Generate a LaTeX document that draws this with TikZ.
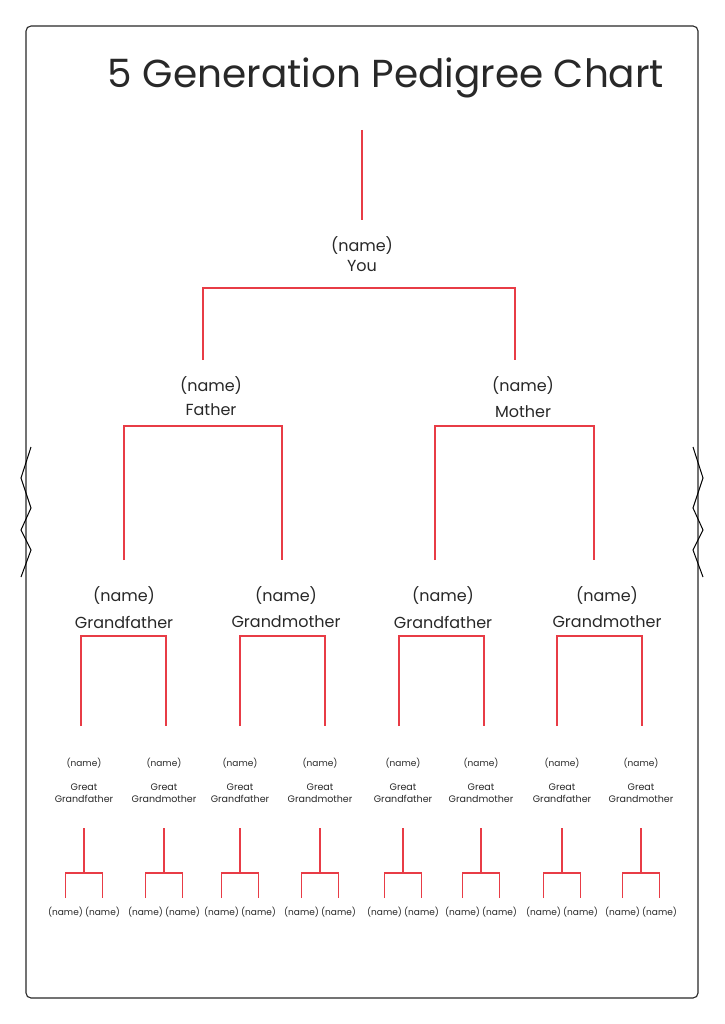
\documentclass[tikz,border=0pt]{standalone}
\usepackage{fontspec}
\setmainfont{Poppins}
\usetikzlibrary{calc}
\definecolor{linered}{RGB}{232,60,70}
\definecolor{ink}{RGB}{40,40,40}
\tikzset{link/.style={draw=linered,line width=1.1pt},
    big/.style={inner sep=0.75pt,text=ink,font=\fontsize{16}{18}\selectfont},
    small/.style={inner sep=0.75pt,text=ink,font=\fontsize{9.5}{12}\selectfont,align=center},
    tiny/.style={inner sep=0.75pt,text=ink,font=\fontsize{9}{11}\selectfont}}
\begin{document}
\begin{tikzpicture}[x=1pt,y=-1pt]
\useasboundingbox (0,0) rectangle (724,1024);
%Shape: page frame
\draw [line width=1.1pt,draw=ink,rounded corners=5pt] (26,26) rectangle (698,998);
%Shape: zigzags
\draw [line width=1pt] (31,447) -- (21,478) -- (31,508) -- (21,530) -- (31,550) -- (21,577);
\draw [line width=1pt] (693,447) -- (703,478) -- (693,508) -- (703,530) -- (693,550) -- (703,577);
% Title
\node (title) [inner sep=0pt,text=ink,font=\fontsize{39}{44}\selectfont] at (386,78) {5 Generation Pedigree Chart};

% You
\coordinate (top) at (362,130);
\node (you) [big,align=center] at (362,254) {(name)\\[2pt]You};
\draw [link] (top) -- (362,220);
\draw [link] (203,360) -- (203,288) -- (515,288) -- (515,360);

% Parents
\node (fathern) [big] at (211,386) {(name)};
\node (father) [big] at (211,410) {Father};
\node (mothern) [big] at (523,386) {(name)};
\node (mother) [big] at (523,412) {Mother};
\draw [link] (124,560) -- (124,426) -- (282,426) -- (282,560);
\draw [link] (435,560) -- (435,426) -- (594,426) -- (594,560);

% Grandparents
\foreach \x/\lab [count=\i] in {124/Grandfather,286/Grandmother,443/Grandfather,607/Grandmother}{
  \node (gn\i) [big] at (\x,596) {(name)};
  \node (g\i) [big] at (\x,622) {\lab};
}
\foreach \x in {81,240,399,557}
  \draw [link] (\x,726) -- (\x,636) -- (\x+85,636) -- (\x+85,726);

% Great grandparents
\foreach \x/\lab [count=\i] in {84/Grandfather,164/Grandmother,240/Grandfather,320/Grandmother,403/Grandfather,481/Grandmother,562/Grandfather,641/Grandmother}{
  \node (ggn\i) [tiny] at (\x,763) {(name)};
  \node (gg\i) [small] at (\x,793) {Great\\\lab};
  \draw [link] (\x,828) -- (\x,873);
  \draw [link] (\x-18.5,898) -- (\x-18.5,873) -- (\x+18.5,873) -- (\x+18.5,898);
  \node (ga\i) [tiny] at (\x-18.5,912) {(name)};
  \node (gb\i) [tiny] at (\x+18.5,912) {(name)};
}
\end{tikzpicture}
\end{document}
